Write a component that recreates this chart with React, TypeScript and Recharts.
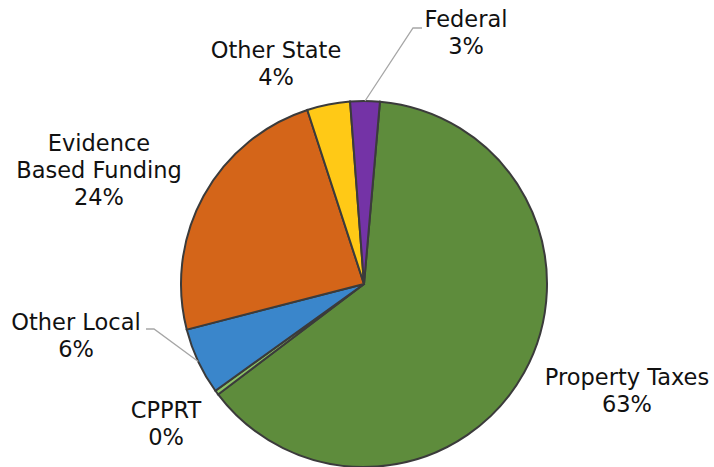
import React from 'react';
import { PieChart, Pie, Cell } from 'recharts';

const categories = ['Property Taxes', 'CPPRT', 'Other Local', 'Evidence Based Funding', 'Other State', 'Federal'];
const values = [63.3, 0.4, 5.9, 24.0, 3.8, 2.6];
const labelNameLines = [['Property Taxes'], ['CPPRT'], ['Other Local'], ['Evidence', 'Based Funding'], ['Other State'], ['Federal']];
const colors = ['#5E8C3C', '#8CC266', '#3A86CB', '#D46519', '#FFC916', '#7433A6'];

// label layout relative to pie centre (text block centre, optional leader elbow/end)
const labelLayout = [
  { dx: 263, dy: 107 },
  { dx: -198, dy: 140 },
  { dx: -288, dy: 52, elbow: [-210, 45], end: [-218, 45] },
  { dx: -265, dy: -114 },
  { dx: -88, dy: -220 },
  { dx: 102, dy: -251, elbow: [49, -256], end: [58, -256] },
];

const data = categories.map((name, i) => ({ name, value: values[i] }));

const RAD = Math.PI / 180;
const LINE_H = 27;

const renderLabel = (props: any) => {
  const { cx, cy, midAngle, outerRadius, index, percent } = props;
  const lay = labelLayout[index];
  const lines = [...labelNameLines[index], `${Math.round(percent * 100)}%`];
  const tx = cx + lay.dx;
  const blockTop = cy + lay.dy - (lines.length * LINE_H) / 2;
  const ex = cx + outerRadius * Math.cos(-midAngle * RAD);
  const ey = cy + outerRadius * Math.sin(-midAngle * RAD);
  return (
    <g key={`lbl-${index}`}>
      {lay.elbow && (
        <polyline
          points={`${ex},${ey} ${cx + lay.elbow[0]},${cy + lay.elbow[1]} ${cx + lay.end[0]},${cy + lay.end[1]}`}
          fill="none"
          stroke="#A6A6A6"
          strokeWidth={1.3}
        />
      )}
      <text
        x={tx}
        y={blockTop}
        textAnchor="middle"
        fill="#111"
        fontFamily="'DejaVu Sans', Verdana, sans-serif"
        fontSize={22.5}
      >
        {lines.map((l, k) => (
          <tspan key={k} x={tx} y={blockTop + LINE_H * (k + 1) - 6}>
            {l}
          </tspan>
        ))}
      </text>
    </g>
  );
};

export default function App() {
  return (
    <div style={{ position: 'absolute', left: 0, top: 0, width: 714, height: 467, background: '#fff' }}>
      <PieChart width={714} height={467} margin={{ top: 0, right: 0, bottom: 0, left: 0 }}>
        <Pie
          data={data}
          dataKey="value"
          nameKey="name"
          cx={364}
          cy={284}
          outerRadius={183}
          startAngle={85}
          endAngle={-275}
          stroke="#3B3B3B"
          strokeWidth={2}
          label={renderLabel}
          labelLine={false}
          isAnimationActive={false}
        >
          {data.map((d, i) => (
            <Cell key={d.name} fill={colors[i]} />
          ))}
        </Pie>
      </PieChart>
    </div>
  );
}
